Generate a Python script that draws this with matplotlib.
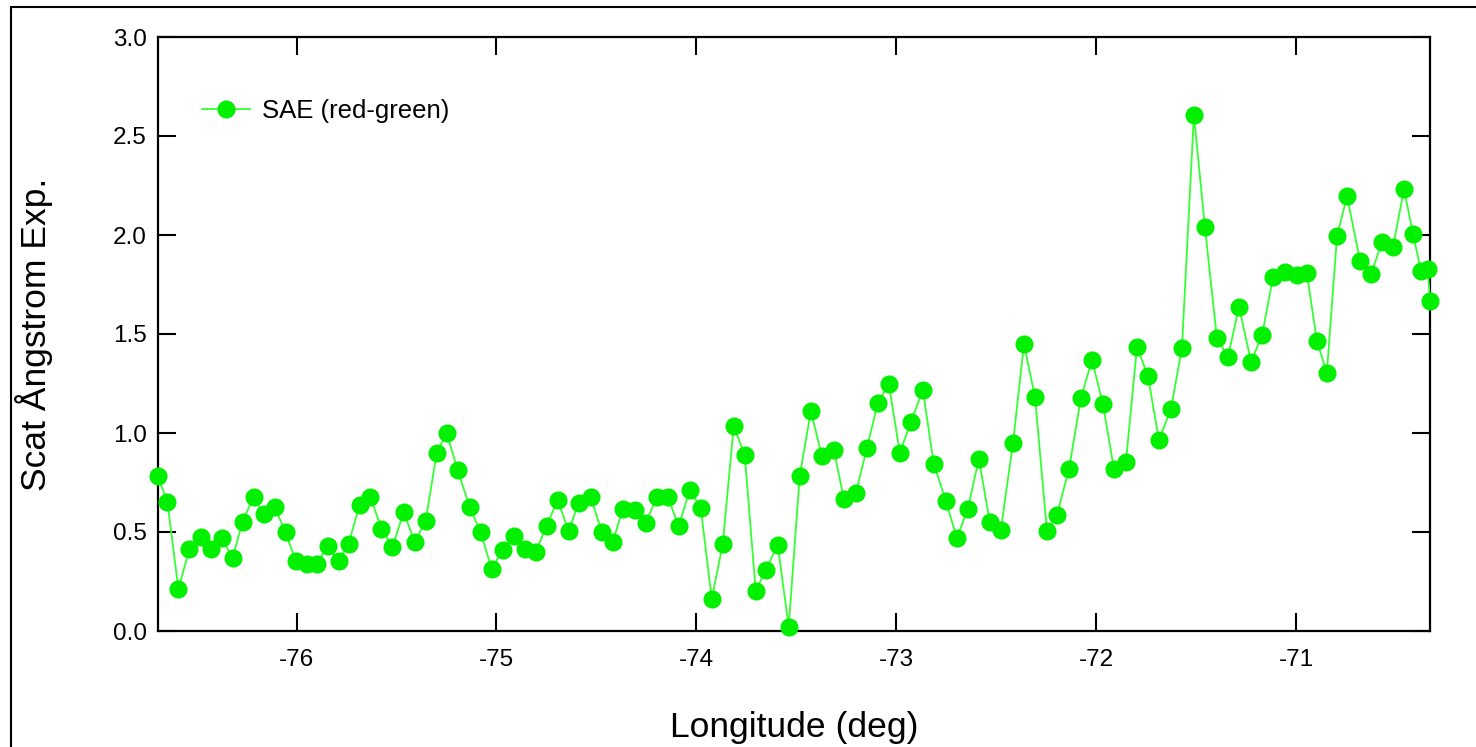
import matplotlib
matplotlib.use("Agg")
import matplotlib.pyplot as plt
from matplotlib.patches import Rectangle

plt.rcParams['font.family'] = ['Liberation Sans', 'DejaVu Sans']

longitude = [
    -76.695, -76.646, -76.591, -76.536, -76.480, -76.430, -76.375, -76.320, -76.270, -76.215,
    -76.165, -76.110, -76.055, -76.005, -75.950, -75.900, -75.845, -75.790, -75.740, -75.685,
    -75.630, -75.575, -75.520, -75.464, -75.409, -75.354, -75.299, -75.249, -75.194, -75.134,
    -75.079, -75.024, -74.969, -74.914, -74.859, -74.804, -74.749, -74.694, -74.639, -74.589,
    -74.529, -74.473, -74.418, -74.368, -74.308, -74.253, -74.198, -74.143, -74.088, -74.033,
    -73.978, -73.923, -73.868, -73.813, -73.758, -73.703, -73.653, -73.593, -73.538, -73.483,
    -73.427, -73.372, -73.312, -73.262, -73.202, -73.147, -73.092, -73.037, -72.982, -72.927,
    -72.867, -72.812, -72.752, -72.697, -72.642, -72.587, -72.532, -72.477, -72.416, -72.361,
    -72.306, -72.246, -72.196, -72.136, -72.076, -72.021, -71.966, -71.911, -71.851, -71.796,
    -71.741, -71.686, -71.626, -71.571, -71.511, -71.456, -71.396, -71.341, -71.285, -71.225,
    -71.170, -71.115, -71.055, -70.995, -70.946, -70.896, -70.846, -70.795, -70.745, -70.680,
    -70.625, -70.570, -70.515, -70.460, -70.415, -70.375, -70.341, -70.330,
]

sae = [
    0.783, 0.652, 0.212, 0.414, 0.475, 0.414, 0.470, 0.369, 0.551, 0.677,
    0.591, 0.626, 0.500, 0.354, 0.338, 0.338, 0.429, 0.354, 0.439, 0.636,
    0.677, 0.515, 0.424, 0.601, 0.449, 0.556, 0.899, 1.000, 0.813, 0.626,
    0.500, 0.313, 0.409, 0.480, 0.414, 0.399, 0.530, 0.662, 0.505, 0.646,
    0.677, 0.500, 0.449, 0.616, 0.611, 0.545, 0.677, 0.677, 0.530, 0.712,
    0.621, 0.162, 0.439, 1.035, 0.889, 0.202, 0.308, 0.434, 0.020, 0.783,
    1.111, 0.884, 0.914, 0.667, 0.697, 0.924, 1.152, 1.247, 0.899, 1.056,
    1.217, 0.843, 0.657, 0.470, 0.616, 0.869, 0.551, 0.510, 0.949, 1.449,
    1.182, 0.505, 0.586, 0.818, 1.177, 1.369, 1.146, 0.818, 0.854, 1.434,
    1.288, 0.965, 1.121, 1.429, 2.606, 2.040, 1.480, 1.384, 1.636, 1.359,
    1.495, 1.788, 1.813, 1.798, 1.808, 1.465, 1.303, 1.995, 2.197, 1.869,
    1.803, 1.965, 1.939, 2.232, 2.005, 1.818, 1.828, 1.667,
]

x_ticks = [-76, -75, -74, -73, -72, -71]
x_tick_labels = ['-76', '-75', '-74', '-73', '-72', '-71']
y_ticks = [0.0, 0.5, 1.0, 1.5, 2.0, 2.5, 3.0]
y_tick_labels = ['0.0', '0.5', '1.0', '1.5', '2.0', '2.5', '3.0']

W, H = 1476, 747
fig = plt.figure(figsize=(W / 100, H / 100), dpi=100)
ax = fig.add_axes([158 / W, 1 - 631 / H, (1430 - 158) / W, (631 - 37) / H])

ax.plot(longitude, sae, color='#33ff33', lw=1.3, marker='o', markersize=12,
        markerfacecolor='#00f000', markeredgecolor='#00f000', clip_on=False,
        zorder=3, label='SAE (red-green)')

ax.set_xlim(-76.693, -70.330)
ax.set_ylim(0.0, 3.0)
ax.set_xticks(x_ticks)
ax.set_xticklabels(x_tick_labels)
ax.set_yticks(y_ticks)
ax.set_yticklabels(y_tick_labels)

for s in ax.spines.values():
    s.set_linewidth(1.6)
ax.tick_params(direction='in', length=13, width=1.5, top=True, right=True,
               labelsize=17.5, colors='black')
ax.tick_params(axis='x', pad=13)
ax.tick_params(axis='y', pad=8)

ax.set_xlabel('Longitude (deg)', fontsize=25.5)
ax.set_ylabel('Scat Ångstrom Exp.', fontsize=25.5)
ax.xaxis.set_label_coords(0.5, -0.135)
ax.yaxis.set_label_coords(-0.0825, 0.5)

ax.legend(loc='center left', bbox_to_anchor=(44 / 1272, (631 - 111) / 594),
          frameon=False, fontsize=18.5, handlelength=1.87, handletextpad=0.47,
          borderaxespad=0, borderpad=0)

fig.add_artist(Rectangle((11 / W, -0.2), 2.0, (1 - 7 / H) + 0.2,
                         transform=fig.transFigure, fill=False,
                         edgecolor='black', lw=1.5))

fig.savefig('out.png', dpi=100)
